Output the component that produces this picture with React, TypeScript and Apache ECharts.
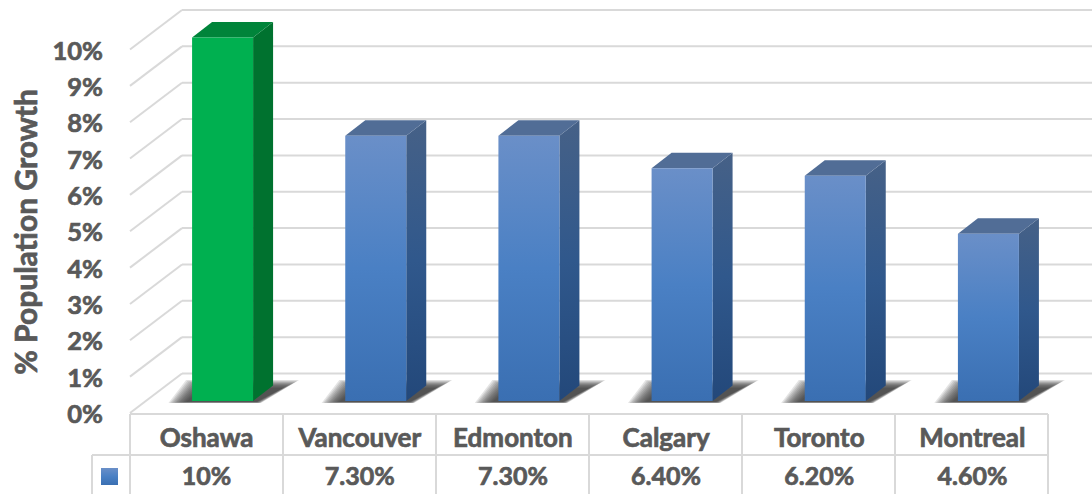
import React, { useEffect, useRef } from "react";
import * as echarts from "echarts";

const categories = ["Oshawa", "Vancouver", "Edmonton", "Calgary", "Toronto", "Montreal"];
const growthValues = [10, 7.3, 7.3, 6.4, 6.2, 4.6];
const tableLabels = ["10%", "7.30%", "7.30%", "6.40%", "6.20%", "4.60%"];
const wallTicks = [0, 1, 2, 3, 4, 5, 6, 7, 8, 9, 10];
const highlighted = ["Oshawa"];

const FONT = "Lato, 'Noto Sans', sans-serif";
const TEXT = "#595959";
const RULE = "#d9d9d9";

// Projection of the 3D box: the wall sits behind the front plane, bars stand in between.
const WALL_DX = 52;
const WALL_DY = -39.5;
const BAR_DX = 16;
const BAR_DY = -12;
const BAR_WIDTH = 61;
const DEPTH_X = 20;
const DEPTH_Y = -15.5;
const SHADOW_LAYERS = 12;

const vertical = (stops: [number, string][]) =>
  new echarts.graphic.LinearGradient(
    0,
    0,
    0,
    1,
    stops.map(([offset, color]) => ({ offset, color }))
  );

const BLUE = {
  front: [[0, "#6a8fc8"], [0.5, "#4a80c4"], [1, "#3a6fb2"]] as [number, string][],
  side: [[0, "#466187"], [0.5, "#30588c"], [1, "#23487a"]] as [number, string][],
  top: "#516d96",
};
const GREEN = {
  front: [[0, "#00b050"], [1, "#00b050"]] as [number, string][],
  side: [[0, "#00722f"], [1, "#00722f"]] as [number, string][],
  top: "#00843a",
};

const labelInk = {
  color: TEXT,
  fontFamily: FONT,
  fontWeight: "bold",
  textBorderColor: TEXT,
  textBorderWidth: 0.7,
  interval: 0,
  hideOverlap: false,
};

const renderWall = (_: unknown, api: any) => {
  const [x, y] = api.coord([0, api.value(0)]);
  const left = x - api.size([1, 0])[0] / 2;
  const backX = left + WALL_DX;
  const backY = y + WALL_DY;
  const lineStyle = { stroke: RULE, lineWidth: 2, fill: "none" };
  return {
    type: "group",
    children: [
      { type: "line", shape: { x1: left, y1: y, x2: backX, y2: backY }, style: lineStyle },
      { type: "line", shape: { x1: backX, y1: backY, x2: api.getWidth(), y2: backY }, style: lineStyle },
    ],
  };
};

// Soft floor shadow: stacked translucent parallelograms, widest first.
const floorShadow = (x0: number, x1: number, base: number) => {
  const layers = [];
  for (let k = SHADOW_LAYERS - 1; k >= 0; k--) {
    const t = k / (SHADOW_LAYERS - 1);
    const spread = t * 16;
    layers.push({
      type: "polygon",
      shape: {
        points: [
          [x0 - 6 - spread * 1.1, base + 1 + t],
          [x1 + 3 + spread * 0.3, base + 1 + t],
          [x1 + DEPTH_X + 10 + spread, base - 13 - t * 8],
          [x0 + 10 - spread, base - 13 - t * 8],
        ],
      },
      style: { fill: "rgba(45,45,45,0.13)" },
    });
  }
  return layers;
};

const renderBar = (_: unknown, api: any) => {
  const index = api.value(0);
  const [cx, topRaw] = api.coord([index, api.value(1)]);
  const [, baseRaw] = api.coord([index, 0]);
  const x0 = cx + BAR_DX - BAR_WIDTH / 2;
  const x1 = x0 + BAR_WIDTH;
  const top = topRaw + BAR_DY;
  const base = baseRaw + BAR_DY;
  const paint = highlighted.includes(categories[index]) ? GREEN : BLUE;
  return {
    type: "group",
    children: [
      ...floorShadow(x0, x1, base),
      {
        type: "polygon",
        shape: {
          points: [
            [x1, top],
            [x1 + DEPTH_X, top + DEPTH_Y],
            [x1 + DEPTH_X, base + DEPTH_Y],
            [x1, base],
          ],
        },
        style: { fill: vertical(paint.side) },
      },
      {
        type: "polygon",
        shape: {
          points: [
            [x0, top],
            [x0 + DEPTH_X, top + DEPTH_Y],
            [x1 + DEPTH_X, top + DEPTH_Y],
            [x1, top],
          ],
        },
        style: { fill: paint.top },
      },
      {
        type: "rect",
        shape: { x: x0, y: top, width: BAR_WIDTH, height: base - top },
        style: { fill: vertical(paint.front) },
      },
    ],
  };
};

const tableRule = (x1: number, y1: number, x2: number, y2: number) => ({
  type: "line",
  shape: { x1, y1, x2, y2 },
  style: { stroke: RULE, lineWidth: 2 },
  silent: true,
});

const columnEdges = [130, 283, 436, 589, 742, 895, 1048];

const option = {
  animation: false,
  backgroundColor: "#ffffff",
  grid: { left: 130, top: 49.5, width: 919, height: 363.5 },
  xAxis: [
    {
      type: "category",
      data: categories,
      position: "bottom",
      axisLine: { show: false },
      axisTick: { show: false },
      axisLabel: { ...labelInk, fontSize: 26, margin: 11 },
    },
    {
      type: "category",
      data: tableLabels,
      position: "bottom",
      offset: 37,
      axisLine: { show: false },
      axisTick: { show: false },
      axisLabel: { ...labelInk, fontSize: 25, margin: 12 },
    },
  ],
  yAxis: {
    type: "value",
    min: 0,
    max: 10,
    interval: 1,
    axisLine: { show: false },
    axisTick: { show: false },
    splitLine: { show: false },
    axisLabel: {
      ...labelInk,
      formatter: "{value}%",
      fontSize: 25.5,
      margin: 27,
    },
  },
  graphic: [
    {
      type: "text",
      x: 25,
      y: 232,
      rotation: Math.PI / 2,
      style: {
        text: "% Population Growth",
        fill: TEXT,
        stroke: TEXT,
        lineWidth: 0.7,
        font: `bold 30px ${FONT}`,
        align: "center",
        verticalAlign: "middle",
      },
    },
    ...columnEdges.map((x) => tableRule(x, 414, x, 494)),
    tableRule(130, 414, 1048, 414),
    tableRule(92, 455, 1048, 455),
    tableRule(92, 455, 92, 494),
    {
      type: "rect",
      shape: { x: 101, y: 468, width: 17, height: 17 },
      style: { fill: vertical(BLUE.front) },
    },
  ],
  series: [
    {
      type: "custom",
      name: "wall",
      coordinateSystem: "cartesian2d",
      renderItem: renderWall,
      data: wallTicks.map((v) => [v]),
      encode: { y: 0 },
      z: 1,
      silent: true,
    },
    {
      type: "custom",
      name: "% Population Growth",
      coordinateSystem: "cartesian2d",
      renderItem: renderBar,
      data: growthValues.map((v, i) => [i, v]),
      encode: { x: 0, y: 1 },
      z: 3,
    },
  ],
};

export default function App() {
  const ref = useRef<HTMLDivElement>(null);
  useEffect(() => {
    const chart = echarts.init(ref.current!, null, { renderer: "svg" });
    chart.setOption(option as any);
    return () => chart.dispose();
  }, []);
  return <div ref={ref} style={{ position: "absolute", left: 0, top: 0, width: 1092, height: 494 }} />;
}
